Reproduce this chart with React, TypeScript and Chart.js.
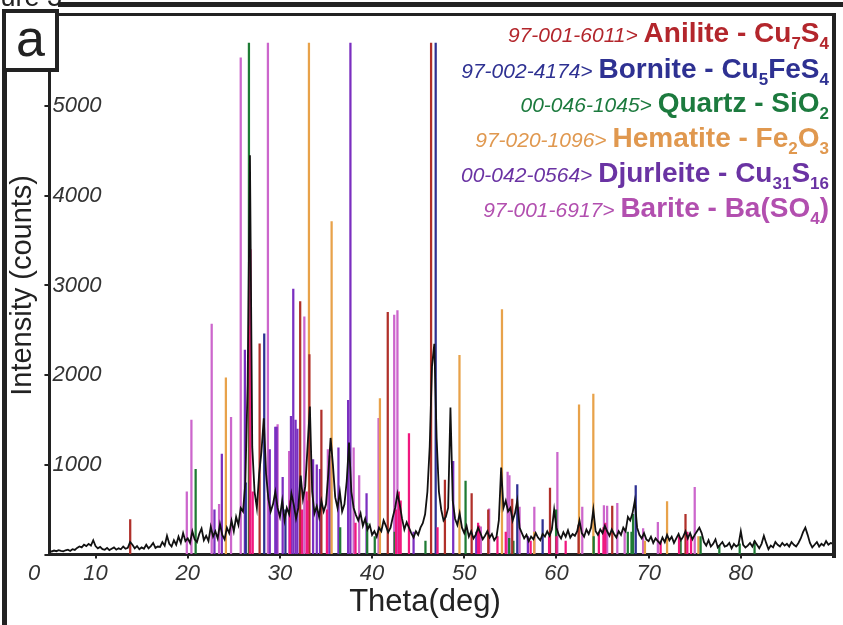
import React, { useEffect, useRef } from 'react';
import { Chart, registerables } from 'chart.js';

Chart.register(...registerables);

// ---------- DATA ----------
// Observed pattern: counts sampled every 0.25 deg starting at 5 deg
const THETA_START = 5;
const THETA_STEP = 0.25;
const observedCounts = [
  40, 35, 45, 38, 50, 42, 36, 48, 55, 40, 60, 52, 75, 90, 80, 110, 95, 120, 100, 160,
  95, 70, 85, 60, 55, 75, 50, 65, 80, 55, 70, 60, 90, 65, 75, 140, 110, 70, 95, 60,
  80, 65, 110, 70, 95, 130, 75, 90, 85, 140, 100, 210, 120, 90, 160, 110, 200, 130, 240, 150,
  180, 130, 260, 170, 140, 230, 290, 160, 210, 150, 310, 200, 260, 180, 340, 220, 170, 300, 240, 380,
  260, 420, 330, 520, 480, 800, 1900, 4450, 1200, 700, 520, 900, 1150, 1520, 900, 620, 480, 560, 700, 520,
  420, 600, 380, 520, 450, 680, 560, 400, 520, 880, 620, 760, 1200, 1650, 700, 460, 540, 420, 600, 480,
  560, 900, 1300, 1000, 640, 520, 700, 480, 560, 820, 1250, 700, 520, 440, 380, 460, 320, 400, 280, 330,
  220, 260, 200, 300, 260, 380, 320, 250, 300, 420, 520, 680, 560, 400, 280, 360, 300, 240, 190, 260,
  220, 300, 350, 450, 700, 1200, 2100, 2350, 1300, 700, 500, 380, 420, 520, 1640, 600, 400, 330, 460, 300,
  240, 320, 200, 260, 180, 220, 300, 240, 170, 210, 260, 190, 230, 160, 200, 380, 970, 520, 600, 480,
  520, 380, 460, 600, 300, 240, 180, 220, 150, 200, 170, 240, 190, 160, 230, 200, 260, 210, 280, 500,
  300, 220, 180, 250, 200, 270, 190, 230, 210, 260, 380, 240, 200, 280, 230, 300, 500, 260, 220, 280,
  240, 320, 260, 210, 280, 230, 190, 260, 220, 300, 260, 420, 380, 460, 600, 300, 220, 180, 240, 170,
  150, 200, 130, 180, 150, 120, 190, 140, 220, 160, 200, 130, 180, 230, 160, 200, 260, 180, 240, 170,
  220, 260, 300, 240, 140, 100, 160, 90, 120, 170, 80, 110, 140, 90, 100, 130, 70, 120, 90, 110,
  260, 110, 80, 100, 130, 90, 150, 110, 70, 120, 210, 130, 60, 100, 80, 140, 110, 90, 130, 100,
  120, 90, 140, 110, 90, 130, 180, 250, 300, 220, 130, 80, 110, 140, 90, 120, 100, 150, 110, 130,
  120,
];

// Reference stick patterns (2-theta, counts)
const aniliteTheta = [13.76, 26.72, 27.8, 32.2, 33.2, 34.5, 41.7, 46.4, 47.9, 50.8, 52.6, 55.2, 59.3, 62.4, 66.05, 74.0];
const aniliteCounts = [390, 2550, 2350, 2820, 2230, 1610, 2700, 5700, 830, 680, 500, 620, 740, 330, 540, 450];

const borniteTheta = [26.3, 28.3, 30.6, 46.9, 55.75, 58.5, 68.6];
const borniteCounts = [800, 2460, 500, 5700, 780, 390, 770];

const quartzTheta = [20.86, 26.64, 36.54, 39.47, 40.29, 42.45, 45.79, 50.14, 54.87, 55.33, 59.96, 64.04, 67.74, 68.14, 68.31, 73.47, 75.64, 77.67, 79.88, 81.49];
const quartzCounts = [950, 5700, 300, 350, 200, 250, 150, 820, 180, 150, 500, 200, 250, 250, 450, 150, 200, 100, 120, 150];

const hematiteTheta = [24.14, 33.15, 35.61, 40.85, 49.48, 54.09, 57.59, 62.45, 64.0, 69.6, 72.0, 75.4];
const hematiteCounts = [1970, 5700, 3710, 1740, 2220, 2730, 250, 1670, 1790, 150, 590, 200];

const djurleiteTheta = [22.9, 23.7, 26.2, 28.9, 29.5, 29.65, 30.3, 31.2, 31.45, 31.7, 31.9, 33.6, 34.0, 34.35, 35.4, 36.35, 37.4, 37.65, 39.4, 44.5, 48.8, 51.3, 56.9];
const djurleiteCounts = [500, 1120, 2280, 1170, 1420, 1420, 860, 1540, 2960, 1500, 1400, 1060, 1000, 950, 1100, 1190, 1720, 5700, 680, 250, 1040, 250, 200];

const bariteTheta = [19.9, 20.4, 22.6, 23.4, 24.7, 25.75, 28.7, 29.75, 31.0, 32.65, 35.2, 38.0, 38.6, 40.7, 42.4, 42.75, 51.8, 52.7, 54.7, 54.9, 56.0, 57.6, 60.1, 62.8, 65.15, 65.5, 66.6, 67.4, 69.4, 71.0, 75.0];
const bariteCounts = [700, 1500, 2570, 560, 1530, 5535, 5700, 1450, 1150, 2650, 1170, 1190, 880, 1520, 2670, 2720, 310, 510, 920, 880, 530, 530, 1140, 530, 545, 540, 570, 270, 290, 360, 750];

const minorTheta = [26.8, 27.05, 31.1, 32.4, 32.9, 33.0, 35.1, 38.2, 42.6, 42.9, 43.1, 44.0, 47.1, 51.5, 51.6, 53.6, 54.5, 57.2, 59.2, 60.0, 61.0, 64.6, 65.1, 65.3, 71.3, 73.3, 74.2, 74.6];
const minorCounts = [3400, 700, 600, 500, 700, 600, 500, 350, 500, 700, 600, 1350, 300, 350, 320, 200, 250, 150, 200, 200, 150, 250, 300, 350, 150, 200, 250, 200];

const xTickValues = [10, 20, 30, 40, 50, 60, 70, 80];
const yTickValues = [0, 1000, 2000, 3000, 4000, 5000, 6000];

const legendRows = [
  { code: '97-001-6011>', name: 'Anilite - ', formula: [['Cu', '7'], ['S', '4']], color: '#B3262C', top: 17 },
  { code: '97-002-4174>', name: 'Bornite - ', formula: [['Cu', '5'], ['FeS', '4']], color: '#2E3192', top: 53 },
  { code: '00-046-1045>', name: 'Quartz - ', formula: [['SiO', '2']], color: '#1C7A3E', top: 87 },
  { code: '97-020-1096>', name: 'Hematite - ', formula: [['Fe', '2'], ['O', '3']], color: '#E0984F', top: 122 },
  { code: '00-042-0564>', name: 'Djurleite - ', formula: [['Cu', '31'], ['S', '16']], color: '#6A33A3', top: 157 },
  { code: '97-001-6917>', name: 'Barite - ', formula: [['Ba(SO', '4'], [')', '']], color: '#B24FAF', top: 192 },
];

const pairs = (xs: number[], ys: number[]) => xs.map((x, i) => ({ x, y: ys[i] }));

export default function App() {
  const canvasRef = useRef<HTMLCanvasElement | null>(null);

  useEffect(() => {
    const ctx = canvasRef.current!.getContext('2d')!;
    const stick = (label: string, xs: number[], ys: number[], color: string, order: number) => ({
      type: 'bar' as const,
      label,
      data: pairs(xs, ys),
      backgroundColor: color,
      borderWidth: 0,
      barThickness: 1.6,
      grouped: false,
      order,
    });
    const observed = observedCounts.map((y, i) => ({ x: THETA_START + i * THETA_STEP, y }));
    const chart = new Chart(ctx, {
      type: 'bar',
      data: {
        datasets: [
          {
            type: 'line' as const,
            label: 'Observed',
            data: observed,
            borderColor: '#111',
            borderWidth: 1.8,
            pointRadius: 0,
            tension: 0,
            order: 0,
          } as any,
          stick('Unassigned', minorTheta, minorCounts, '#F0187F', 1),
          stick('Anilite', aniliteTheta, aniliteCounts, '#B0302A', 2),
          stick('Bornite', borniteTheta, borniteCounts, '#2E3192', 3),
          stick('Quartz', quartzTheta, quartzCounts, '#1E7B34', 4),
          stick('Hematite', hematiteTheta, hematiteCounts, '#E8A24A', 5),
          stick('Djurleite', djurleiteTheta, djurleiteCounts, '#7B2FC0', 6),
          stick('Barite', bariteTheta, bariteCounts, '#CC66CC', 7),
        ],
      },
      options: {
        responsive: false,
        animation: false,
        layout: { padding: { left: 0, right: 10, top: 14, bottom: 36 } },
        plugins: { legend: { display: false }, tooltip: { enabled: false } },
        scales: {
          x: {
            type: 'linear',
            min: 5,
            max: 90,
            offset: false,
            afterBuildTicks: (s: any) => { s.ticks = xTickValues.map((v) => ({ value: v })); },
            grid: { offset: false, drawOnChartArea: false, drawTicks: true, tickLength: 4, color: '#222', lineWidth: 2 },
            border: { display: true, width: 3, color: '#222' },
            ticks: {
              color: '#333',
              padding: 2,
              maxRotation: 0,
              font: { family: 'Liberation Sans, Arial, sans-serif', size: 22, style: 'italic' },
            },
          },
          y: {
            type: 'linear',
            min: 0,
            max: 6000,
            afterBuildTicks: (s: any) => { s.ticks = yTickValues.map((v) => ({ value: v })); },
            grid: { drawOnChartArea: false, drawTicks: true, tickLength: 5, color: '#222', lineWidth: 2 },
            border: { display: true, width: 3, color: '#222' },
            ticks: {
              mirror: true,
              padding: 3,
              color: '#333',
              callback: (v: any) => (v === 0 || v === 6000 ? '' : String(v)),
              font: { family: 'Liberation Sans, Arial, sans-serif', size: 22, style: 'italic' },
            },
            title: {
              display: true,
              text: 'Intensity (counts)',
              color: '#222',
              padding: { top: 8, bottom: 0 },
              font: { family: 'Liberation Sans, Arial, sans-serif', size: 29, lineHeight: 1.05 },
            },
          },
        },
      } as any,
    });
    return () => chart.destroy();
  }, []);

  const font = 'Liberation Sans, Arial, sans-serif';
  const line = (style: React.CSSProperties) => (
    <div style={{ position: 'absolute', background: '#222', zIndex: 2, ...style }} />
  );

  return (
    <div style={{ position: 'fixed', left: 0, top: 0, width: 843, height: 625, overflow: 'hidden', background: '#fff', fontFamily: font }}>
      <canvas ref={canvasRef} width={843} height={625} style={{ position: 'absolute', left: 0, top: 0 }} />
      <div style={{ position: 'absolute', right: 843 - 62, top: -16, fontSize: 27, lineHeight: '26px', color: '#222', whiteSpace: 'nowrap' }}>Figure 3</div>
      {line({ left: 58, right: 0, top: 2, height: 5 })}
      {line({ left: 57, right: 8, top: 13, height: 3 })}
      {line({ left: 832, top: 13, width: 4, height: 545 })}
      {line({ left: 2, top: 10, width: 5, bottom: 0 })}
      <div style={{ position: 'absolute', left: 2, top: 9, width: 49, height: 55, border: '4px solid #222', background: '#fff', zIndex: 3, fontSize: 52, lineHeight: '50px', textAlign: 'center', color: '#222' }}>a</div>
      <div style={{ position: 'absolute', left: 28, top: 561, fontSize: 22, lineHeight: '24px', fontStyle: 'italic', color: '#333' }}>0</div>
      <div style={{ position: 'absolute', left: 425, top: 584, transform: 'translateX(-50%)', fontSize: 31, lineHeight: '34px', color: '#222', whiteSpace: 'nowrap' }}>Theta(deg)</div>
      {legendRows.map((r) => (
        <div key={r.code} style={{ position: 'absolute', right: 14, top: r.top, color: r.color, whiteSpace: 'nowrap', lineHeight: '32px', zIndex: 4 }}>
          <span style={{ fontSize: 21, fontStyle: 'italic' }}>{r.code} </span>
          <span style={{ fontSize: 28, fontWeight: 'bold' }}>
            {r.name}
            {r.formula.map(([el, sub], i) => (
              <React.Fragment key={i}>
                {el}
                {sub ? <span style={{ fontSize: 17, position: 'relative', top: 7 }}>{sub}</span> : null}
              </React.Fragment>
            ))}
          </span>
        </div>
      ))}
    </div>
  );
}
